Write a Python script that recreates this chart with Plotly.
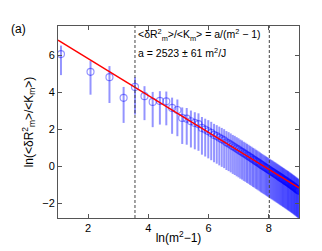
import numpy as np
import plotly.graph_objects as go

# mode index m (x axis is ln(m^2 - 1))
m_values = list(range(2, 91))

y_values = [
    6.08, 5.12, 4.83, 3.71, 4.30, 3.80, 3.49, 3.54, 3.52, 3.16,
    3.05, 2.62, 2.58, 2.44, 2.35, 2.28, 2.08, 1.99, 1.90, 1.81,
    1.70, 1.63, 1.55, 1.47, 1.40, 1.30, 1.24, 1.17, 1.09, 1.03,
    0.96, 0.90, 0.83, 0.78, 0.71, 0.66, 0.60, 0.55, 0.49, 0.44,
    0.38, 0.34, 0.28, 0.24, 0.19, 0.14, 0.09, 0.05, 0.00, -0.04,
    -0.08, -0.12, -0.16, -0.20, -0.24, -0.28, -0.31, -0.35, -0.39, -0.42,
    -0.46, -0.49, -0.53, -0.56, -0.60, -0.63, -0.66, -0.70, -0.72, -0.76,
    -0.79, -0.82, -0.85, -0.88, -0.91, -0.94, -0.97, -1.00, -1.03, -1.06,
    -1.09, -1.12, -1.15, -1.18, -1.21, -1.24, -1.27, -1.30, -1.33,
]

err_up = [
    0.46, 0.58, 0.60, 0.59, 0.53, 0.54, 0.54, 0.53, 0.53, 0.56,
    0.57, 0.57, 0.58, 0.58, 0.58, 0.59, 0.59, 0.59, 0.60, 0.60,
    0.60, 0.60, 0.60, 0.61, 0.61, 0.61, 0.61, 0.61, 0.61, 0.62,
    0.62, 0.62, 0.62, 0.62, 0.62, 0.62, 0.62, 0.62, 0.62, 0.62,
    0.62, 0.62, 0.62, 0.62, 0.62, 0.62, 0.62, 0.62, 0.62, 0.62,
    0.62, 0.62, 0.62, 0.62, 0.62, 0.62, 0.62, 0.62, 0.62, 0.62,
    0.62, 0.62, 0.62, 0.62, 0.62, 0.62, 0.62, 0.62, 0.62, 0.62,
    0.62, 0.62, 0.62, 0.62, 0.62, 0.62, 0.62, 0.62, 0.62, 0.62,
    0.62, 0.62, 0.62, 0.62, 0.62, 0.62, 0.62, 0.62, 0.62,
]

err_down = [
    1.14, 1.24, 1.40, 1.36, 1.50, 1.30, 1.37, 1.28, 1.30, 1.40,
    1.42, 1.41, 1.41, 1.42, 1.43, 1.44, 1.45, 1.46, 1.47, 1.48,
    1.48, 1.49, 1.50, 1.50, 1.50, 1.50, 1.50, 1.50, 1.50, 1.50,
    1.50, 1.50, 1.50, 1.50, 1.50, 1.50, 1.50, 1.50, 1.50, 1.50,
    1.50, 1.50, 1.50, 1.50, 1.50, 1.50, 1.50, 1.50, 1.50, 1.50,
    1.50, 1.50, 1.50, 1.50, 1.50, 1.50, 1.50, 1.50, 1.50, 1.50,
    1.50, 1.50, 1.50, 1.50, 1.50, 1.50, 1.50, 1.50, 1.50, 1.50,
    1.50, 1.50, 1.50, 1.50, 1.50, 1.50, 1.50, 1.50, 1.50, 1.50,
    1.50, 1.50, 1.50, 1.50, 1.50, 1.50, 1.50, 1.50, 1.50,
]

a_fit = 2523
fit_range = [1, 9]
fit_window_m = [6, 55]

x_values = [float(np.log(m * m - 1)) for m in m_values]
fit_y = [float(np.log(a_fit) - xv) for xv in fit_range]

blue = "rgba(0,0,255,0.42)"
font = "Liberation Sans, Arial, sans-serif"

fig = go.Figure()
fig.add_trace(go.Scatter(
    x=x_values, y=y_values, mode="markers",
    marker=dict(symbol="circle-open", size=7, color=blue, line=dict(width=1.2, color=blue)),
    error_y=dict(type="data", symmetric=False, array=err_up, arrayminus=err_down,
                 color=blue, thickness=2, width=0),
    showlegend=False,
))
fig.add_trace(go.Scatter(
    x=fit_range, y=fit_y, mode="lines",
    line=dict(color="red", width=1.3), showlegend=False,
))

for mv in fit_window_m:
    fig.add_vline(x=float(np.log(mv * mv - 1)), line=dict(color="#444", width=1, dash="3px,2px"))

fig.add_annotation(
    x=0.322, y=0.955, xref="paper", yref="paper", xanchor="left", yanchor="middle",
    text="&lt;δR<sup>2</sup><sub>m</sub>&gt;/&lt;K<sub>m</sub>&gt; = a/(m<sup>2</sup> − 1)",
    showarrow=False, font=dict(size=10.5, color="black", family=font),
)
fig.add_annotation(
    x=0.322, y=0.86, xref="paper", yref="paper", xanchor="left", yanchor="middle",
    text="a = 2523 ± 61 m<sup>2</sup>/J",
    showarrow=False, font=dict(size=10.5, color="black", family=font),
)
fig.add_annotation(
    x=-0.205, y=0.985, xref="paper", yref="paper", xanchor="left", yanchor="middle",
    text="(a)", showarrow=False, font=dict(size=12, color="black", family=font),
)

axis_common = dict(
    showgrid=False, zeroline=False, showline=True, linecolor="#555", linewidth=1,
    mirror="ticks", ticks="inside", ticklen=4, tickcolor="#555",
    tickfont=dict(size=11, color="black", family=font),
)
fig.update_xaxes(range=[1, 9], tickvals=[2, 4, 6, 8], **axis_common,
                 title=dict(text="ln(m<sup>2</sup>−1)", font=dict(size=12, color="black", family=font), standoff=0))
fig.update_yaxes(range=[-2.8, 7.6], tickvals=[-2, 0, 2, 4, 6], **axis_common,
                 title=dict(text="ln(&lt;δR<sup>2</sup><sub>m</sub>&gt;/&lt;K<sub>m</sub>&gt;)",
                            font=dict(size=12, color="black", family=font), standoff=6))

fig.update_layout(
    width=322, height=251, margin=dict(l=50, r=31, t=18, b=41),
    plot_bgcolor="white", paper_bgcolor="white",
)
fig.write_html("out.html")
